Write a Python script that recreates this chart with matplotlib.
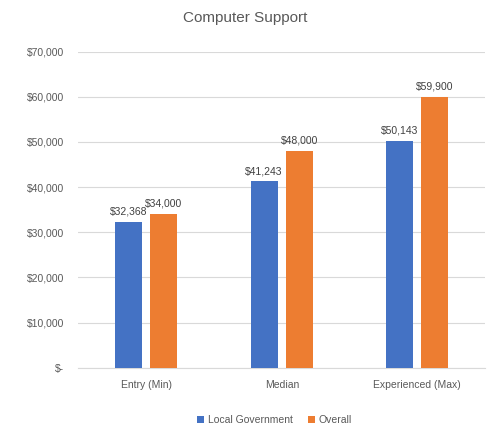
import numpy as np
import matplotlib.pyplot as plt
from matplotlib.ticker import FuncFormatter

categories = ["Entry (Min)", "Median", "Experienced (Max)"]
local_gov = [32368, 41243, 50143]
overall = [34000, 48000, 59900]
series_names = ["Local Government", "Overall"]
blue = "#4472C4"
orange = "#ED7D31"

plt.rcParams['font.family'] = ['Liberation Sans', 'DejaVu Sans']

fig = plt.figure(figsize=(4.9, 4.3), dpi=100)
ax = fig.add_axes([0.16, 0.145, 0.83, 0.735])

x = np.arange(len(categories))
w = 0.2
gap = 0.03
b1 = ax.bar(x - w / 2 - gap, local_gov, w, color=blue, label=series_names[0], zorder=3)
b2 = ax.bar(x + w / 2 + gap, overall, w, color=orange, label=series_names[1], zorder=3)

# value labels above each bar
for bars in (b1, b2):
    for r in bars:
        ax.text(r.get_x() + r.get_width() / 2, r.get_height() + 1200,
                f"${r.get_height():,.0f}", ha="center", va="bottom",
                fontsize=7.5, color="#404040")

def money(v, pos):
    return "$-" if v == 0 else f"${v:,.0f}"

ax.set_ylim(0, 70000)
ax.set_yticks(np.arange(0, 70001, 10000))
ax.yaxis.set_major_formatter(FuncFormatter(money))
ax.set_xlim(-0.5, 2.5)
ax.set_xticks(x)
ax.set_xticklabels(categories)
ax.tick_params(axis="both", length=0, labelsize=7.5, labelcolor="#595959")
ax.tick_params(axis="x", pad=9)
ax.tick_params(axis="y", pad=10)
ax.grid(axis="y", color="#D9D9D9", linewidth=0.8, zorder=0)
for s in ("top", "right", "left"):
    ax.spines[s].set_visible(False)
ax.spines["bottom"].set_color("#D9D9D9")

fig.suptitle("Computer Support", y=0.975, fontsize=11, color="#595959")
fig.legend(handles=[b1, b2], loc="lower center", bbox_to_anchor=(0.56, -0.01),
           ncol=2, frameon=False, fontsize=7.5, handlelength=0.7, handleheight=0.7,
           columnspacing=1.5, handletextpad=0.3, labelcolor="#595959")

fig.savefig("out.png", dpi=100)
